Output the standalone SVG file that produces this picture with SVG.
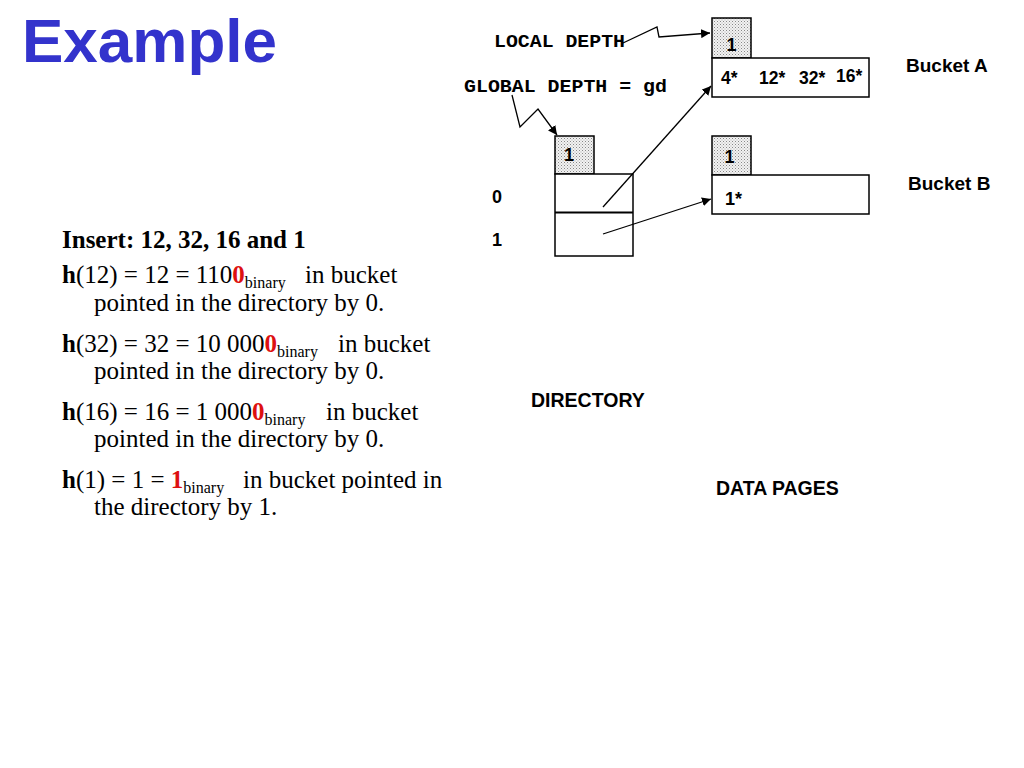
<svg xmlns="http://www.w3.org/2000/svg" width="1024" height="768" viewBox="0 0 1024 768">
<style>
.box{fill:#fff;stroke:#000;stroke-width:1.5}
.depth{fill:url(#dots);stroke:#000;stroke-width:1.5}
.sans{font-family:"Liberation Sans",Arial,sans-serif;font-weight:bold;fill:#000}
.mono{font-family:"Liberation Mono","Courier New",monospace;font-weight:bold;font-size:19px;fill:#000}
.serif{font-family:"Liberation Serif","Times New Roman",serif;font-size:25px;fill:#000}
.b{font-weight:bold}
.red{fill:#DD1111;font-weight:bold}
.sub{font-size:16px}
.line{fill:none;stroke:#000;stroke-width:1.3}
</style>
<defs>
<pattern id="dots" width="3" height="3" patternUnits="userSpaceOnUse">
<rect width="3" height="3" fill="#f2f2f2"/>
<rect x="0" y="0" width="1" height="1" fill="#888"/>
<rect x="1.5" y="1.5" width="1" height="1" fill="#aaa"/>
</pattern>
<marker id="arr" viewBox="0 0 10 10" refX="10" refY="5" markerWidth="9" markerHeight="9" markerUnits="userSpaceOnUse" orient="auto">
<path d="M0,0 L10,5 L0,10 z" fill="#000"/>
</marker>
</defs>
<rect width="1024" height="768" fill="#fff"/>
<text x="22" y="62" font-family="Liberation Sans,Arial,sans-serif" font-weight="bold" font-size="62" fill="#3333CC">Example</text>

<g id="bucketA">
<rect class="depth" x="712" y="18" width="39" height="40"/>
<text class="sans" x="731.5" y="51" font-size="18" text-anchor="middle">1</text>
<rect class="box" x="712" y="58" width="157" height="39"/>
<text class="sans" font-size="17.5" y="84"><tspan x="721">4*</tspan><tspan x="759">12*</tspan><tspan x="799">32*</tspan><tspan x="836" y="82">16*</tspan></text>
<text class="sans" x="906" y="72" font-size="19">Bucket A</text>
</g>

<g id="bucketB">
<rect class="depth" x="712" y="136" width="39" height="39"/>
<text class="sans" x="729.5" y="163" font-size="18" text-anchor="middle">1</text>
<rect class="box" x="712" y="175" width="157" height="39"/>
<text class="sans" x="725" y="205" font-size="18">1*</text>
<text class="sans" x="908" y="190" font-size="19">Bucket B</text>
</g>

<g id="directory">
<rect class="depth" x="555" y="136" width="39" height="38"/>
<text class="sans" x="569" y="161" font-size="18" text-anchor="middle">1</text>
<rect class="box" x="555" y="174" width="78" height="82"/>
<line x1="555" y1="212.5" x2="633" y2="212.5" stroke="#000" stroke-width="2"/>
<text class="sans" x="492" y="203" font-size="18">0</text>
<text class="sans" x="492" y="246" font-size="18">1</text>
<text class="sans" x="531" y="407" font-size="19.5">DIRECTORY</text>
</g>

<g id="labels">
<text class="mono" x="494" y="47" textLength="131" lengthAdjust="spacingAndGlyphs">LOCAL DEPTH</text>
<text class="mono" x="464" y="92" textLength="203" lengthAdjust="spacingAndGlyphs">GLOBAL DEPTH = gd</text>
<text class="sans" x="716" y="495" font-size="19.5">DATA PAGES</text>
</g>

<g id="connectors">
<polyline class="line" points="623,43 657,27 659,37 710,33" marker-end="url(#arr)"/>
<polyline class="line" points="512,95 520,127 538,109 557,135" marker-end="url(#arr)"/>
<line class="line" x1="603" y1="207" x2="711" y2="86" marker-end="url(#arr)"/>
<line class="line" x1="603" y1="234" x2="711" y2="199" marker-end="url(#arr)"/>
</g>

<g id="text">
<text class="serif b" x="62" y="248" font-size="25.5">Insert: 12, 32, 16 and 1</text>
<text class="serif" x="62" y="283"><tspan class="b">h</tspan>(12) = 12 = 110<tspan class="red">0</tspan><tspan class="sub" dy="5">binary</tspan></text>
<text class="serif" x="305" y="283">in bucket</text>
<text class="serif" x="94" y="311">pointed in the directory by 0.</text>
<text class="serif" x="62" y="352"><tspan class="b">h</tspan>(32) = 32 = 10 000<tspan class="red">0</tspan><tspan class="sub" dy="5">binary</tspan></text>
<text class="serif" x="338" y="352">in bucket</text>
<text class="serif" x="94" y="379">pointed in the directory by 0.</text>
<text class="serif" x="62" y="420"><tspan class="b">h</tspan>(16) = 16 = 1 000<tspan class="red">0</tspan><tspan class="sub" dy="5">binary</tspan></text>
<text class="serif" x="326" y="420">in bucket</text>
<text class="serif" x="94" y="447">pointed in the directory by 0.</text>
<text class="serif" x="62" y="488"><tspan class="b">h</tspan>(1) = 1 = <tspan class="red">1</tspan><tspan class="sub" dy="5">binary</tspan></text>
<text class="serif" x="243" y="488">in bucket pointed in</text>
<text class="serif" x="94" y="515">the directory by 1.</text>
</g>
</svg>
